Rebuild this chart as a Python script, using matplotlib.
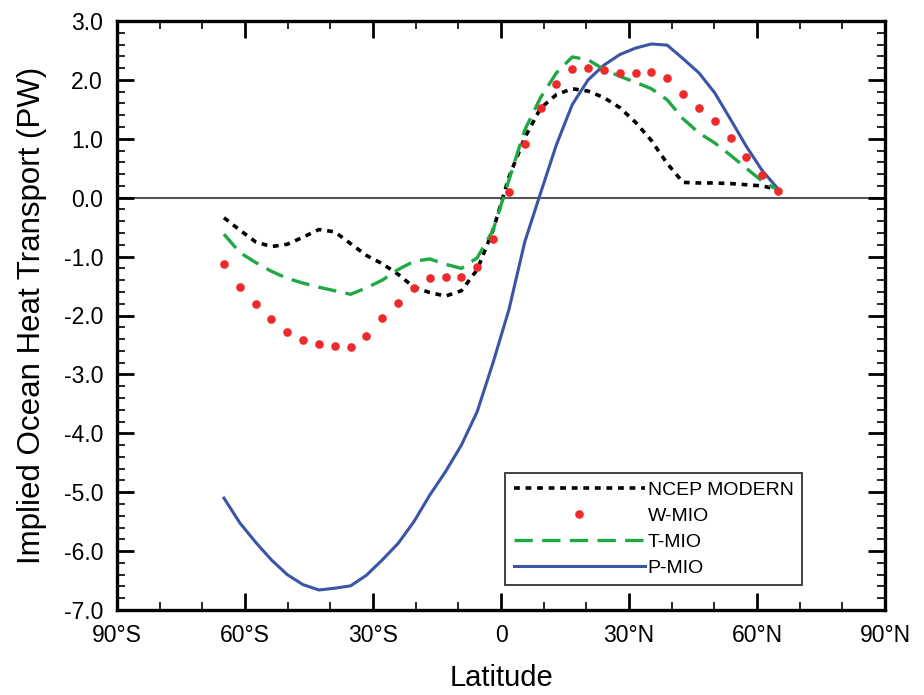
import matplotlib
matplotlib.use("Agg")
import matplotlib.pyplot as plt
from matplotlib.ticker import MultipleLocator, FuncFormatter
from matplotlib.lines import Line2D

plt.rcParams['font.family'] = ['Liberation Sans', 'DejaVu Sans']
plt.rcParams['axes.unicode_minus'] = False

lat = [-64.93, -61.22, -57.51, -53.80, -50.09, -46.38, -42.67, -38.96, -35.25,
       -31.54, -27.83, -24.12, -20.41, -16.70, -12.99, -9.28, -5.57, -1.86,
       1.86, 5.57, 9.28, 12.99, 16.70, 20.41, 24.12, 27.83, 31.54, 35.25,
       38.96, 42.67, 46.38, 50.09, 53.80, 57.51, 61.22, 64.93]

ncep = [-0.34, -0.55, -0.75, -0.83, -0.79, -0.67, -0.54, -0.58, -0.78,
        -0.98, -1.12, -1.30, -1.52, -1.61, -1.67, -1.58, -1.22, -0.55,
        0.35, 1.02, 1.52, 1.75, 1.85, 1.81, 1.70, 1.53, 1.28, 0.97,
        0.58, 0.26, 0.25, 0.25, 0.24, 0.22, 0.20, 0.14]

wmio = [-1.13, -1.52, -1.80, -2.06, -2.28, -2.42, -2.48, -2.51, -2.53,
        -2.35, -2.05, -1.79, -1.53, -1.36, -1.35, -1.35, -1.18, -0.70,
        0.09, 0.92, 1.53, 1.93, 2.18, 2.21, 2.16, 2.11, 2.12, 2.13,
        2.03, 1.76, 1.53, 1.31, 1.02, 0.69, 0.39, 0.12]

tmio = [-0.62, -0.93, -1.10, -1.25, -1.37, -1.45, -1.52, -1.58, -1.64,
        -1.53, -1.40, -1.22, -1.08, -1.04, -1.13, -1.20, -1.02, -0.55,
        0.30, 1.15, 1.70, 2.12, 2.39, 2.34, 2.18, 2.06, 1.96, 1.85,
        1.66, 1.34, 1.10, 0.93, 0.72, 0.50, 0.28, 0.13]

pmio = [-5.10, -5.52, -5.85, -6.15, -6.40, -6.57, -6.66, -6.63, -6.59,
        -6.41, -6.15, -5.87, -5.50, -5.05, -4.65, -4.20, -3.63, -2.80,
        -1.90, -0.75, 0.08, 0.90, 1.58, 2.00, 2.25, 2.43, 2.54, 2.61,
        2.59, 2.36, 2.12, 1.78, 1.33, 0.87, 0.46, 0.15]

xticks = [-90, -60, -30, 0, 30, 60, 90]
xticklabels = ['90°S', '60°S', '30°S', '0', '30°N', '60°N', '90°N']
labels = ['NCEP MODERN', 'W-MIO', 'T-MIO', 'P-MIO']

fig = plt.figure(figsize=(9.24, 6.95), dpi=100)
ax = fig.add_axes([117/924, 1-610/695, 768/924, 589/695])

ax.axhline(0, color='#555555', lw=1.5, zorder=1)
l1, = ax.plot(lat, ncep, color='black', lw=2.6, linestyle=(0, (1.6, 1.6)), zorder=3)
l2, = ax.plot(lat, wmio, linestyle='none', marker='o', ms=6.2, color='#ee2a2a',
              markeredgewidth=0, zorder=4)
l3, = ax.plot(lat, tmio, color='#1fa843', lw=2.4, linestyle=(0, (5.5, 2.8)), zorder=3)
l4, = ax.plot(lat, pmio, color='#3a54a8', lw=2.2, zorder=2)

ax.set_xlim(-90, 90)
ax.set_ylim(-7, 3)
ax.set_xticks(xticks)
ax.set_xticklabels(xticklabels)
ax.xaxis.set_minor_locator(MultipleLocator(10))
ax.yaxis.set_major_locator(MultipleLocator(1))
ax.yaxis.set_minor_locator(MultipleLocator(0.2))
ax.yaxis.set_major_formatter(FuncFormatter(lambda v, p: f"{v:.1f}"))

ax.tick_params(which='both', direction='in', top=True, right=True, labelsize=16.5, color='black')
ax.tick_params(which='major', length=12, width=2.0, pad=10)
ax.tick_params(which='minor', length=5.8, width=1.2)
for s in ax.spines.values():
    s.set_linewidth(2.4)

ax.set_xlabel('Latitude', fontsize=21, labelpad=12)
ax.set_ylabel('Implied Ocean Heat Transport (PW)', fontsize=22.5, labelpad=12)

h2 = Line2D([], [], linestyle='none', marker='o', ms=6.2, color='#ee2a2a', markeredgewidth=0)
leg = ax.legend([l1, h2, l3, l4], labels, loc='lower left', bbox_to_anchor=(0.505, 0.042),
                fontsize=14, frameon=True, fancybox=False, handlelength=6.75,
                handletextpad=0.15, borderpad=0.45, labelspacing=0.42, borderaxespad=0)
leg.get_frame().set_edgecolor('black')
leg.get_frame().set_linewidth(1.3)

fig.savefig('out.png', dpi=100)
